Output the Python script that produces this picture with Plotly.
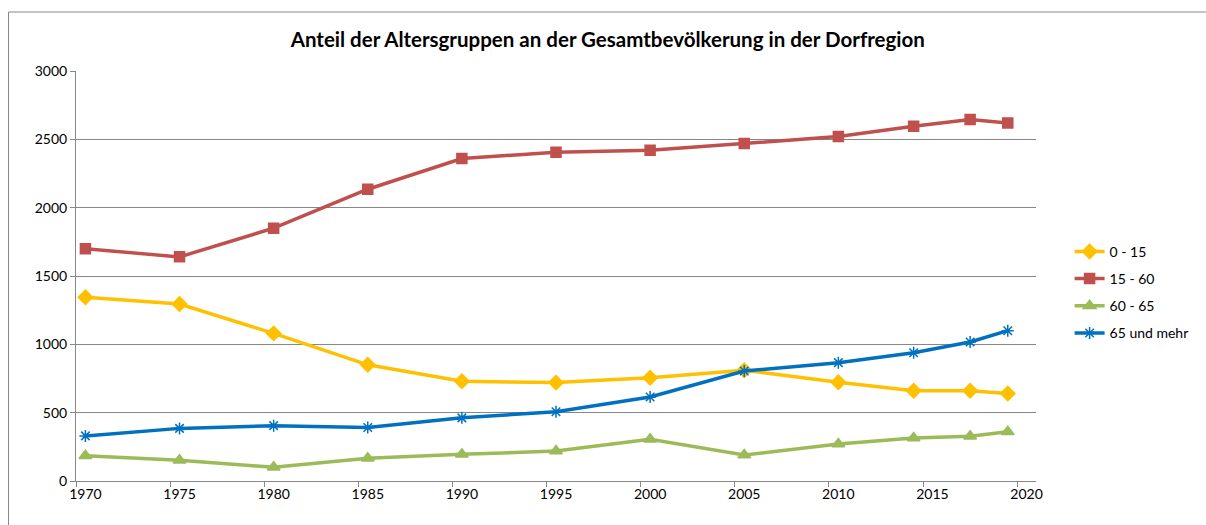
import plotly.graph_objects as go

years = [1970, 1975, 1980, 1985, 1990, 1995, 2000, 2005, 2010, 2014, 2017, 2019]
age_0_15 = [1345, 1295, 1080, 850, 730, 720, 755, 810, 722, 660, 660, 640]
age_15_60 = [1700, 1640, 1850, 2135, 2360, 2405, 2420, 2470, 2520, 2595, 2645, 2620]
age_60_65 = [185, 152, 100, 166, 195, 219, 305, 190, 271, 315, 327, 361]
age_65_plus = [330, 385, 405, 392, 462, 507, 615, 805, 866, 938, 1017, 1100]

series = [
    ("0 - 15", age_0_15, "#FFC000", "diamond", 11),
    ("15 - 60", age_15_60, "#C0504D", "square", 10),
    ("60 - 65", age_60_65, "#9BBB59", "triangle-up", 11),
    ("65 und mehr", age_65_plus, "#0070C0", "asterisk-open", 10),
]

FONT = "Lato, 'Open Sans', sans-serif"

fig = go.Figure()
for name, vals, color, sym, size in series:
    fig.add_trace(go.Scatter(
        x=years, y=vals, name=name, mode="lines+markers", legendgroup=name,
        line=dict(color=color, width=3.5),
        marker=dict(symbol=sym, size=size, color=color,
                    line=dict(color=color, width=1.5)),
    ))

fig.update_layout(
    width=1206, height=525,
    paper_bgcolor="white", plot_bgcolor="white",
    margin=dict(l=76, r=163, t=71, b=44),
    font=dict(family=FONT, size=14, color="#404040"),
    title=dict(text="<b>Anteil der Altersgruppen an der Gesamtbevölkerung in der Dorfregion</b>",
               x=0.504, xanchor="center", y=0.925, yanchor="middle",
               font=dict(family=FONT, size=20.5, color="#000000")),
    showlegend=True,
    legend=dict(x=1.035, y=0.598, xanchor="left", yanchor="top",
                font=dict(family=FONT, size=14, color="#000000"),
                tracegroupgap=6, traceorder="grouped", itemwidth=30,
                bgcolor="rgba(0,0,0,0)"),
    xaxis=dict(range=[1969.5, 2020.5], tickvals=list(range(1970, 2021, 5)),
               ticks="", showgrid=False, zeroline=False,
               showline=True, linecolor="#878787", linewidth=1,
               tickfont=dict(family=FONT, size=14, color="#000000"),
               minor=dict(tick0=1969.5, dtick=5, ticks="outside", ticklen=5,
                          tickcolor="#878787", showgrid=False)),
    yaxis=dict(range=[0, 3000], tickvals=list(range(0, 3001, 500)),
               showgrid=True, gridcolor="#878787", gridwidth=1,
               zeroline=False, showline=True, linecolor="#878787", linewidth=1,
               ticks="outside", ticklen=5, tickcolor="#878787",
               tickfont=dict(family=FONT, size=14, color="#000000")),
    shapes=[dict(type="rect", xref="paper", yref="paper",
                 x0=-68/967, x1=1.2, y0=-0.2, y1=(481 - 12) / 410,
                 line=dict(color="#878787", width=1), fillcolor="rgba(0,0,0,0)",
                 layer="below")],
)

fig.write_html("out.html", config={"displayModeBar": False},
               post_script="document.body.style.margin='0';document.body.style.padding='0';")
